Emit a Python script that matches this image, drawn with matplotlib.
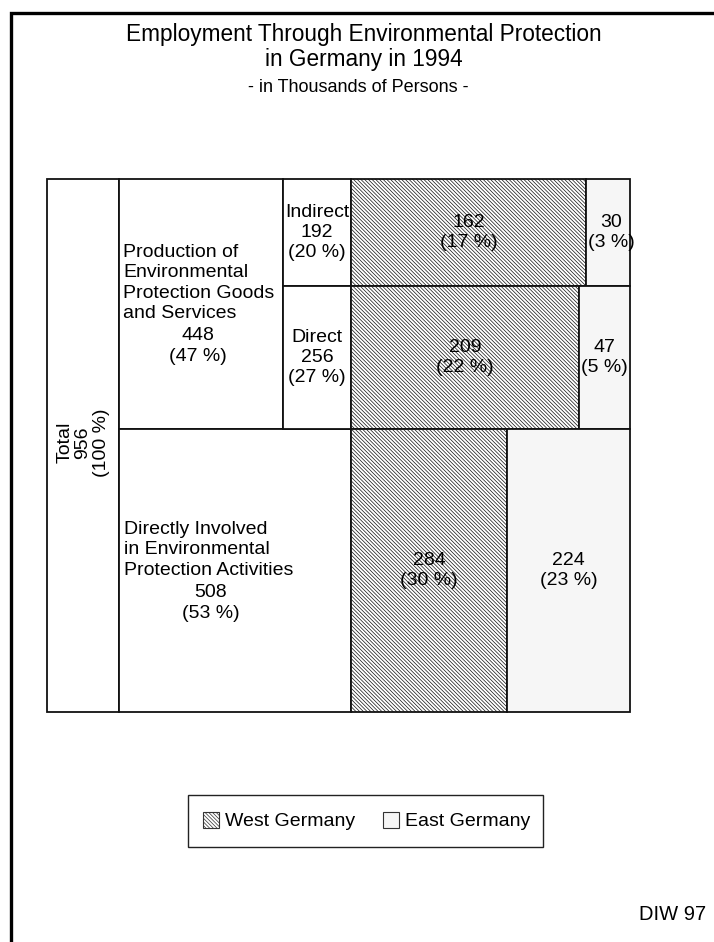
import matplotlib.pyplot as plt
from matplotlib.patches import Rectangle

plt.rcParams['font.family'] = ['Liberation Sans', 'DejaVu Sans']
plt.rcParams['hatch.color'] = '#aaaaaa'
plt.rcParams['hatch.linewidth'] = 0.5

# values in thousands of persons
total = 956
total_pct = 100
group_labels = ['Production of\nEnvironmental\nProtection Goods\nand Services',
                'Directly Involved\nin Environmental\nProtection Activities']
group_values = [448, 508]
group_pct = [47, 53]
sub_labels = ['Indirect', 'Direct']
sub_values = [192, 256]
sub_pct = [20, 27]
# rows of the right part: Indirect, Direct, Directly involved
west_values = [162, 209, 284]
west_pct = [17, 22, 30]
east_values = [30, 47, 224]
east_pct = [3, 5, 23]

fig = plt.figure(figsize=(7.14, 9.42), dpi=100)
ax = fig.add_axes([0, 0, 1, 1])
ax.set_xlim(0, 714)
ax.set_ylim(942, 0)
ax.axis('off')

# page frame (top and left)
ax.plot([11, 11, 714], [942, 13, 13], color='black', lw=2.4, solid_joinstyle='miter')

# title
ax.text(364, 47, 'Employment Through Environmental Protection\nin Germany in 1994',
        ha='center', va='center', fontsize=16.3, linespacing=1.1)
ax.text(358, 88, '- in Thousands of Persons -', ha='center', va='center', fontsize=13)

# layout of the chart (pixels)
top, bottom = 179, 712
x_total, x_group, x_sub, x_data, x_end = 47, 119, 283, 351, 630
scale = (bottom - top) / total
edge = dict(edgecolor='#111111', linewidth=1.3)
fs = 14
ls = 1.25

# total column
ax.add_patch(Rectangle((x_total, top), x_group - x_total, total * scale, facecolor='white', **edge))
ax.text((x_total + x_group) / 2, (top + bottom) / 2 - 3, f'Total\n{total}\n({total_pct} %)',
        rotation=90, ha='center', va='center', multialignment='center',
        fontsize=fs, linespacing=1.08)

# group cells
g_top = [top, top + group_values[0] * scale]
g_right = [x_sub, x_data]
for i in range(2):
    h = group_values[i] * scale
    ax.add_patch(Rectangle((x_group, g_top[i]), g_right[i] - x_group, h, facecolor='white', **edge))

# production text block
ax.text(123, 283, group_labels[0], ha='left', va='center', fontsize=fs, linespacing=ls)
ax.text(198, 346, f'{group_values[0]}\n({group_pct[0]} %)', ha='center', va='center',
        fontsize=fs, linespacing=ls)
# directly involved text block
ax.text(124, 550, group_labels[1], ha='left', va='center', fontsize=fs, linespacing=ls)
ax.text(211, 603, f'{group_values[1]}\n({group_pct[1]} %)', ha='center', va='center',
        fontsize=fs, linespacing=ls)

# indirect / direct cells
s_top = top
for lab, v, p in zip(sub_labels, sub_values, sub_pct):
    h = v * scale
    ax.add_patch(Rectangle((x_sub, s_top), x_data - x_sub, h, facecolor='white', **edge))
    ax.text((x_sub + x_data) / 2, s_top + h / 2, f'{lab}\n{v}\n({p} %)', ha='center', va='center',
            multialignment='center', fontsize=fs, linespacing=ls)
    s_top += h

# right part: west / east split of each row
row_totals = [w + e for w, e in zip(west_values, east_values)]
row_h = [t * scale for t in row_totals]
row_c = []
y = top
for h in row_h:
    row_c.append(y + h / 2)
    y += h
width = x_end - x_data
west_w = [w / t * width for w, t in zip(west_values, row_totals)]
east_w = [e / t * width for e, t in zip(east_values, row_totals)]
ax.barh(row_c, west_w, height=row_h, left=x_data, facecolor='white', hatch='\\' * 9,
        edgecolor='#111111', linewidth=1.3)
ax.barh(row_c, east_w, height=row_h, left=[x_data + w for w in west_w], facecolor='#f6f6f6',
        edgecolor='#111111', linewidth=1.3)
for i in range(3):
    ax.text(x_data + west_w[i] / 2, row_c[i], f'{west_values[i]}\n({west_pct[i]} %)',
            ha='center', va='center', fontsize=fs, linespacing=1.2)
    ax.text(x_data + west_w[i] + east_w[i] / 2 + (3 if i == 0 else 0), row_c[i],
            f'{east_values[i]}\n({east_pct[i]} %)', ha='center', va='center',
            fontsize=fs, linespacing=1.2)

# legend
ax.add_patch(Rectangle((188, 795), 355, 52, facecolor='white', edgecolor='#222222', linewidth=1.0))
ax.add_patch(Rectangle((203, 812), 16, 16, facecolor='white', hatch='\\' * 9,
                       edgecolor='#333333', linewidth=0.8))
ax.text(225, 821, 'West Germany', ha='left', va='center', fontsize=fs)
ax.add_patch(Rectangle((383, 812), 16, 16, facecolor='#f6f6f6', edgecolor='#333333', linewidth=0.8))
ax.text(405, 821, 'East Germany', ha='left', va='center', fontsize=fs)

ax.text(706, 914, 'DIW 97', ha='right', va='center', fontsize=14.5)

fig.savefig('out.png', dpi=100)
